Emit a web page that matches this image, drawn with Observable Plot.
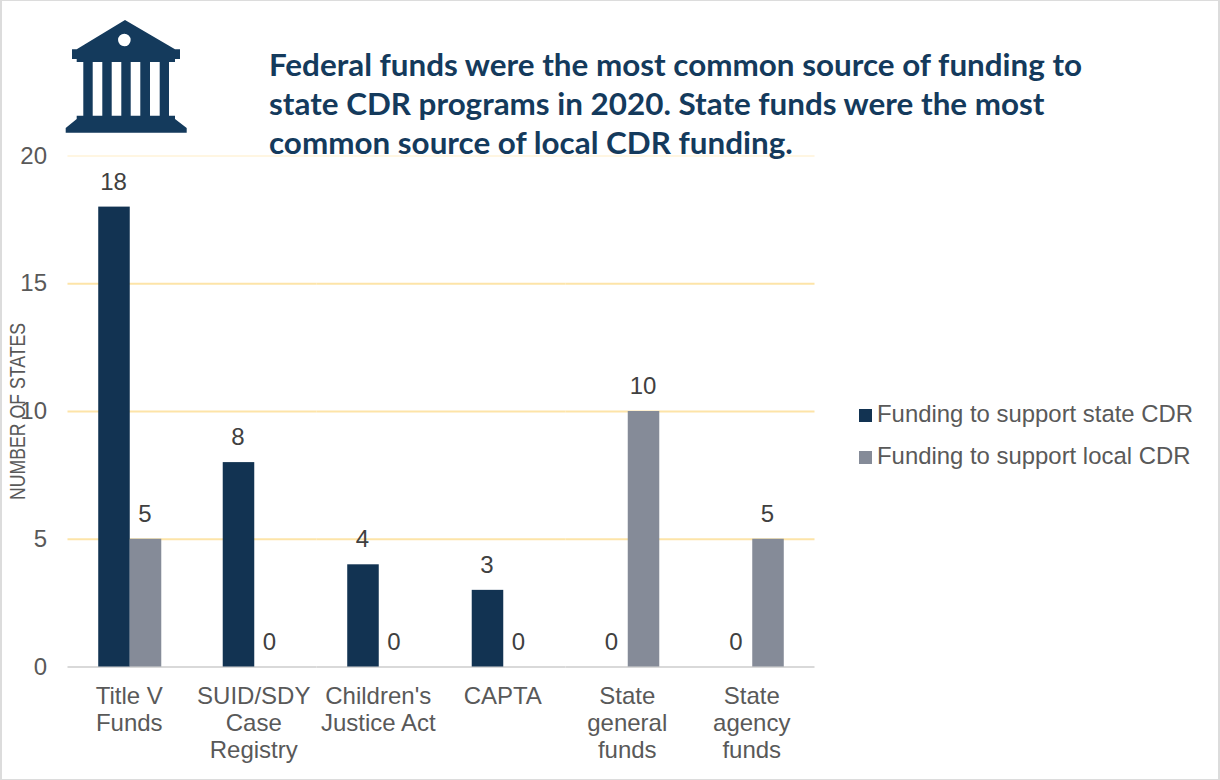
<!DOCTYPE html>
<html>
<head>
<meta charset="utf-8">
<script src="https://cdn.jsdelivr.net/npm/d3@7"></script>
<script src="https://cdn.jsdelivr.net/npm/@observablehq/plot@0.6"></script>
<style>
html,body{margin:0;padding:0;background:#fff;}
#wrap{position:relative;width:1220px;height:780px;overflow:hidden;font-family:"Liberation Sans",Arial,sans-serif;}
#frame{position:absolute;left:0;top:0;width:1216px;height:778px;border:1px solid #dcdcdc;border-width:1px 2px 1px 2px;box-sizing:content-box;pointer-events:none;}
#chart{position:absolute;left:0;top:0;}
#title{position:absolute;left:269px;top:44.5px;font:bold 31.4px/39px Lato,sans-serif;color:#143a5c;white-space:nowrap;}
#icon{position:absolute;left:65px;top:20px;}
.leg{position:absolute;left:859px;font-size:23.9px;color:#595959;white-space:nowrap;line-height:26px;}
.leg i{display:inline-block;width:13px;height:13px;margin-right:5px;vertical-align:0;}
</style>
</head>
<body>
<div id="wrap">
<div id="chart"></div>
<svg id="icon" width="123" height="114" viewBox="0 0 123 114" fill="#143a5c">
<path fill-rule="evenodd" d="M60 0 L110 29.3 L115 29.3 L115 39 L110 39 L110 42 L104 42 L104 95.7 L110 95.7 L110 99 L121.7 108 L121.7 112.7 L0.7 112.7 L0.7 108 L11.7 99 L11.7 95.7 L18.3 95.7 L18.3 42 L11.7 42 L11.7 39 L7 39 L7 29.3 L11.7 29.3 Z M59.3 13.7 A6.3 6.3 0 1 0 59.4 26.3 A6.3 6.3 0 1 0 59.3 13.7 Z M27.7 42 V95.7 H37.3 V42 Z M46.7 42 V95.7 H56.3 V42 Z M65.7 42 V95.7 H75.3 V42 Z M85 42 V95.7 H94.7 V42 Z"/>
</svg>
<div id="title">Federal funds were the most common source of funding to<br>state CDR programs in 2020. State funds were the most<br>common source of local CDR funding.</div>
<div class="leg" style="top:401px"><i style="background:#123352"></i>Funding to support state CDR</div>
<div class="leg" style="top:443px"><i style="background:#858b98"></i>Funding to support local CDR</div>
<div id="frame"></div>
</div>
<script>
const categories = ["Title V\nFunds", "SUID/SDY\nCase\nRegistry", "Children's\nJustice Act", "CAPTA", "State\ngeneral\nfunds", "State\nagency\nfunds"];
const seriesNames = ["Funding to support state CDR", "Funding to support local CDR"];
const stateValues = [18, 8, 4, 3, 0, 0];
const localValues = [5, 0, 0, 0, 10, 5];
const seriesColors = ["#123352", "#858b98"];
const yTicks = [0, 5, 10, 15, 20];
const rows = categories.flatMap((c, i) => [
  {category: c, series: seriesNames[0], value: stateValues[i]},
  {category: c, series: seriesNames[1], value: localValues[i]}
]);
const plot = Plot.plot({
  width: 1220, height: 780,
  marginLeft: 67.5, marginRight: 405.5, marginTop: 155.5, marginBottom: 113.5,
  style: {background: "transparent", fontFamily: "'Liberation Sans', Arial, sans-serif"},
  fx: {domain: categories, padding: 0, round: false, label: null},
  x: {domain: seriesNames, paddingInner: 0, paddingOuter: 0.975, round: false, axis: null},
  y: {domain: [0, 20], ticks: yTicks},
  color: {domain: seriesNames, range: seriesColors},
  marks: [
    Plot.ruleY([5, 10, 15], {stroke: "#fde4a8", strokeWidth: 2}),
    Plot.ruleY([20], {stroke: "#fff6e2", strokeWidth: 2}),
    Plot.ruleY([0], {stroke: "#d9d9d9", strokeWidth: 2}),
    Plot.barY(rows, {fx: "category", x: "series", y: "value", fill: "series"}),
    Plot.text(rows, {fx: "category", x: "series", y: "value", text: d => String(d.value), dx: -1, dy: -25, lineAnchor: "middle", fontSize: 24, fill: "#404040"}),
    Plot.axisY({ticks: yTicks, tickSize: 0, tickPadding: 21, fontSize: 24, fill: "#595959", label: "NUMBER OF STATES", labelAnchor: "center", labelArrow: "none", labelOffset: 59, tickFormat: d => d}),
    Plot.axisFx({anchor: "bottom", tickSize: 0, tickPadding: 18, dx: -1, fontSize: 24, fill: "#595959", lineHeight: 1.125, lineAnchor: "top", label: null})
  ]
});
document.getElementById("chart").appendChild(plot);
// The reference's vertical axis title is a condensed rendering of the label.
plot.querySelectorAll("text").forEach(t => {
  if (t.textContent === "NUMBER OF STATES") {
    t.setAttribute("font-size", "22");
    t.setAttribute("textLength", "177");
    t.setAttribute("lengthAdjust", "spacingAndGlyphs");
  }
});
</script>
</body>
</html>
